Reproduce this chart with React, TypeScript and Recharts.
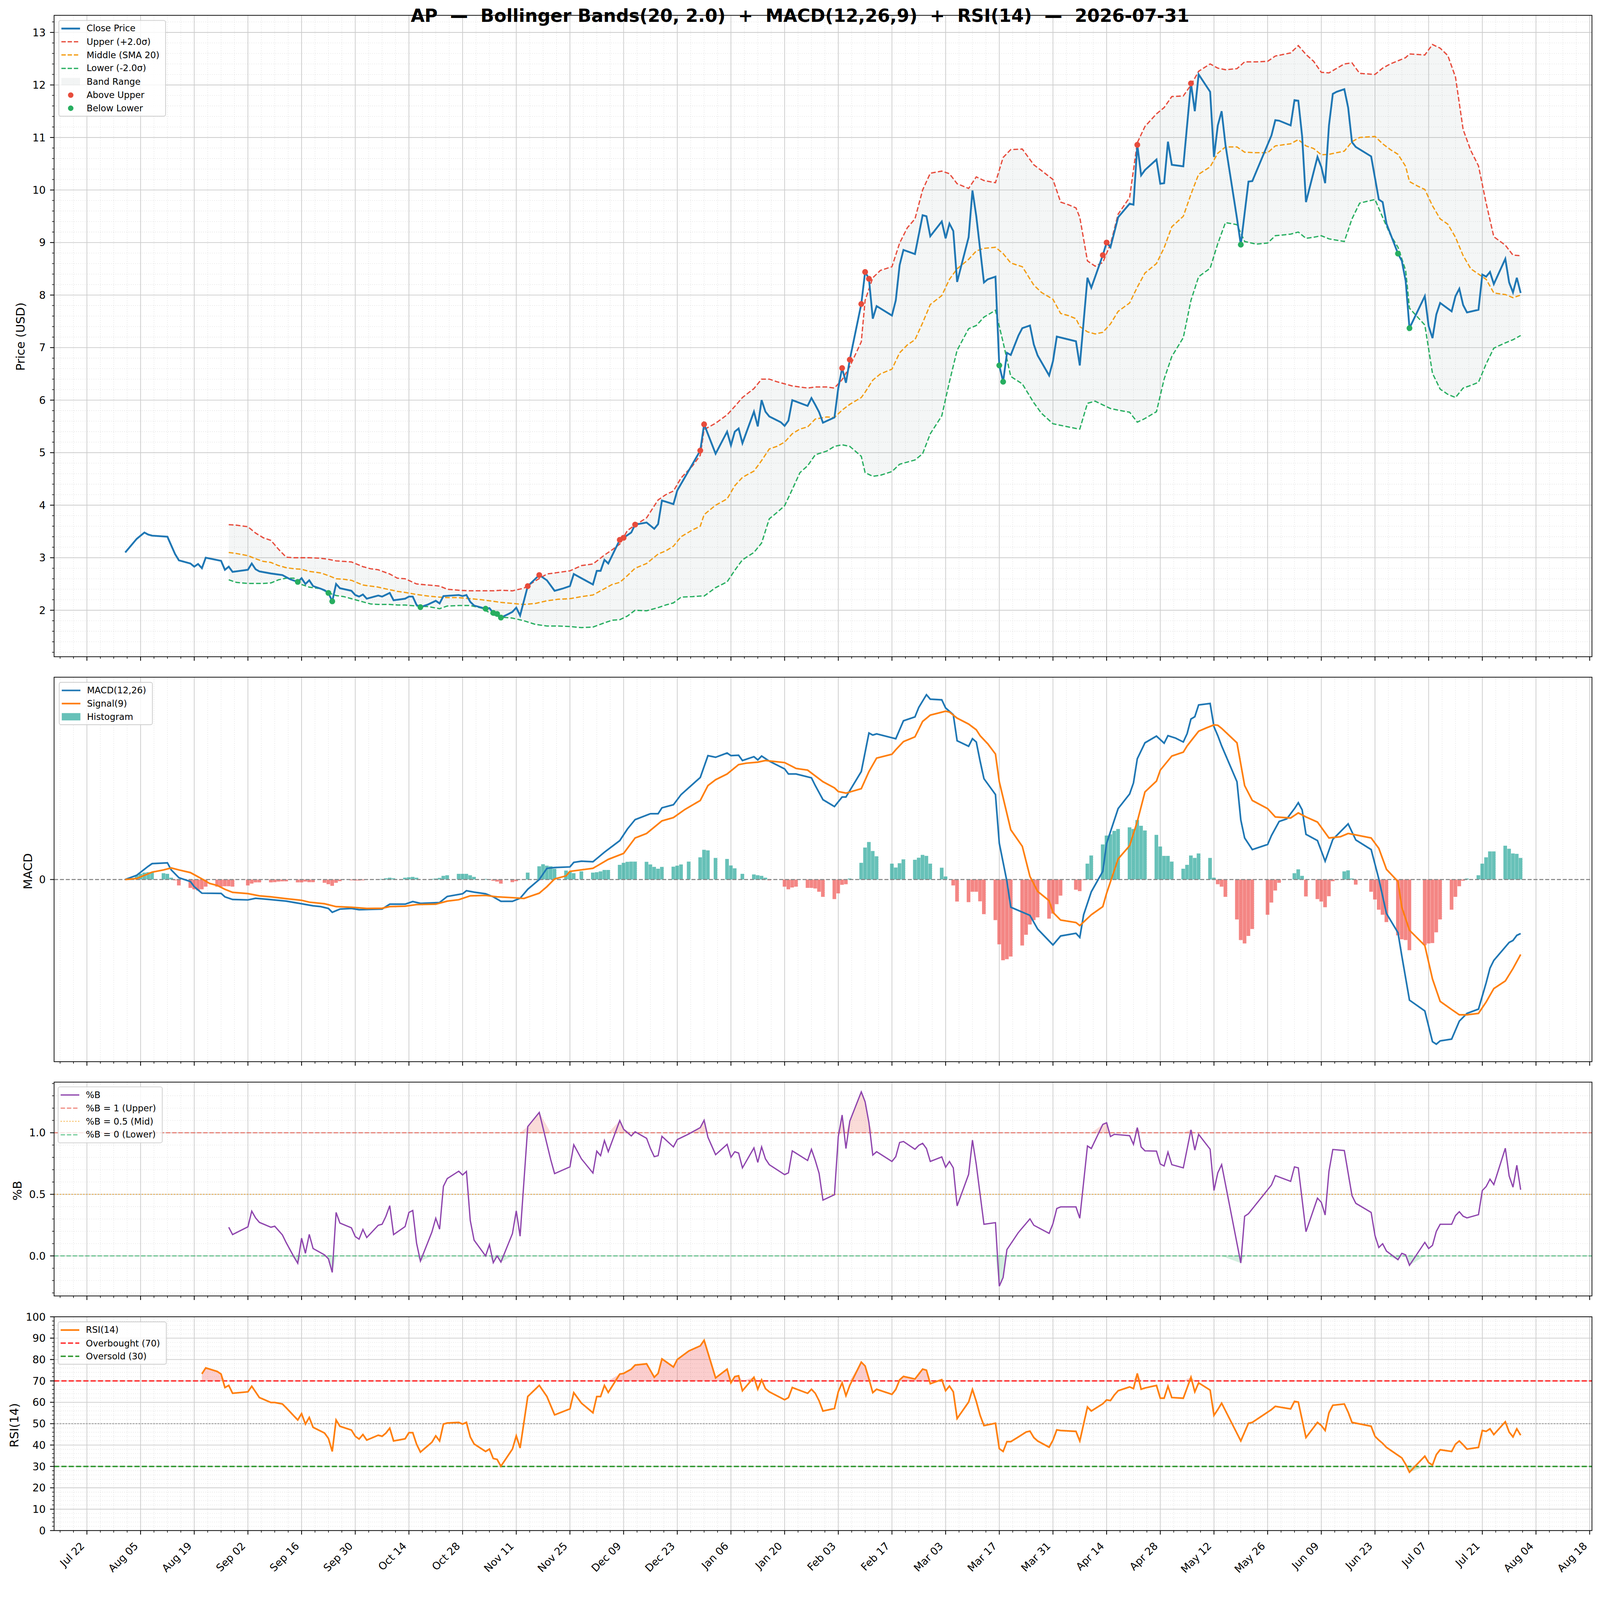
import React from "react";
import {
  ComposedChart,
  Line,
  Area,
  Bar,
  Cell,
  Scatter,
  XAxis,
  YAxis,
  CartesianGrid,
  ReferenceLine,
} from "recharts";

// x values are day numbers counted from 2025-07-22 (the first date tick)
const xMajor = [0, 14, 28, 42, 56, 70, 84, 98, 112, 126, 140, 154, 168, 182, 196, 210, 224, 238, 252, 266, 280, 294, 308, 322, 336, 350, 364, 378, 392];
const xLabels = ["Jul 22", "Aug 05", "Aug 19", "Sep 02", "Sep 16", "Sep 30", "Oct 14", "Oct 28", "Nov 11", "Nov 25", "Dec 09", "Dec 23", "Jan 06", "Jan 20", "Feb 03", "Feb 17", "Mar 03", "Mar 17", "Mar 31", "Apr 14", "Apr 28", "May 12", "May 26", "Jun 09", "Jun 23", "Jul 07", "Jul 21", "Aug 04", "Aug 18"];

const closeDays = [
  10, 13, 15, 16, 17, 21, 23, 24, 27, 28, 29, 30, 31, 35, 36,
  37, 38, 42, 43, 44, 45, 48, 51, 53, 55, 56, 57, 58, 59, 61,
  62, 63, 64, 65, 66, 69, 70, 71, 72, 73, 75, 76, 77, 79, 80,
  83, 84, 85, 86, 87, 89, 91, 92, 93, 97, 98, 99, 100, 101, 104,
  105, 106, 107, 108, 110, 111, 112, 113, 115, 118, 120, 122, 124, 126, 127,
  130, 132, 133, 134, 135, 136, 139, 140, 142, 143, 146, 148, 149, 150, 153,
  154, 160, 161, 164, 167, 168, 169, 170, 171, 174, 175, 176, 177, 178, 181,
  182, 183, 184, 188, 189, 190, 191, 192, 195, 196, 197, 198, 199, 202, 203,
  204, 205, 206, 210, 211, 212, 213, 216, 218, 219, 220, 223, 224, 225, 226,
  227, 230, 231, 232, 233, 234, 235, 237, 238, 239, 240, 241, 243, 244, 246,
  247, 248, 251, 252, 253, 258, 259, 261, 262, 265, 266, 267, 269, 272, 273,
  274, 275, 276, 279, 280, 281, 282, 283, 286, 288, 289, 290, 293, 294, 295,
  296, 297, 300, 301, 303, 304, 309, 310, 311, 314, 315, 316, 317, 318, 321,
  322, 323, 324, 325, 326, 328, 329, 330, 331, 335, 337, 338, 339, 342, 343,
  344, 345, 349, 350, 351, 352, 353, 356, 357, 358, 359, 360, 363, 364, 365,
  366, 367, 370, 371, 372, 373, 374,
];
const closePrices = [
  3.10, 3.36, 3.48, 3.44, 3.42, 3.40, 3.07, 2.95, 2.89, 2.83, 2.88, 2.80, 3.00, 2.94, 2.77,
  2.83, 2.73, 2.77, 2.89, 2.78, 2.74, 2.70, 2.67, 2.59, 2.54, 2.61, 2.50, 2.57, 2.46, 2.41,
  2.38, 2.33, 2.17, 2.50, 2.42, 2.37, 2.29, 2.26, 2.30, 2.22, 2.26, 2.28, 2.26, 2.33, 2.19,
  2.22, 2.26, 2.26, 2.10, 2.06, 2.11, 2.18, 2.13, 2.27, 2.29, 2.27, 2.29, 2.16, 2.09, 2.03,
  2.04, 1.95, 1.93, 1.86, 1.93, 1.97, 2.05, 1.90, 2.46, 2.67, 2.57, 2.37, 2.41, 2.46, 2.69,
  2.57, 2.49, 2.75, 2.75, 2.96, 2.89, 3.34, 3.38, 3.48, 3.63, 3.67, 3.55, 3.64, 4.09, 4.02,
  4.28, 5.04, 5.54, 4.98, 5.40, 5.14, 5.40, 5.46, 5.18, 5.78, 5.50, 6.00, 5.78, 5.69, 5.58,
  5.51, 5.61, 6.00, 5.89, 6.04, 5.91, 5.77, 5.57, 5.67, 6.23, 6.61, 6.33, 6.77, 7.83, 8.44,
  8.31, 7.55, 7.79, 7.61, 7.90, 8.57, 8.86, 8.78, 9.52, 9.50, 9.12, 9.40, 9.08, 9.36, 9.22,
  8.25, 9.10, 9.99, 9.50, 8.87, 8.24, 8.30, 8.35, 6.66, 6.35, 6.90, 6.86, 7.23, 7.37, 7.42,
  7.06, 6.85, 6.47, 6.74, 7.21, 7.12, 6.66, 8.33, 8.14, 8.76, 9.00, 8.91, 9.48, 9.74, 9.72,
  10.86, 10.28, 10.38, 10.58, 10.12, 10.13, 10.92, 10.48, 10.45, 12.03, 11.50, 12.20, 11.87, 10.63, 11.23,
  11.50, 10.86, 9.46, 8.96, 10.16, 10.17, 11.04, 11.33, 11.32, 11.23, 11.71, 11.70, 11.02, 9.77, 10.63,
  10.44, 10.13, 11.23, 11.83, 11.87, 11.92, 11.57, 10.91, 10.82, 10.64, 9.82, 9.77, 9.36, 8.79, 8.65,
  8.27, 7.37, 7.98, 7.41, 7.18, 7.63, 7.85, 7.69, 7.98, 8.12, 7.81, 7.67, 7.72, 8.39, 8.35,
  8.44, 8.21, 8.69, 8.24, 8.05, 8.33, 8.04,
];

const bandDays = [
  37, 39, 42, 44, 46, 48, 50, 52, 54, 56,
  58, 61, 63, 65, 67, 69, 72, 74, 76, 79,
  81, 83, 86, 89, 92, 94, 97, 100, 103, 106,
  108, 111, 114, 117, 120, 123, 126, 129, 132, 135,
  137, 139, 141, 143, 146, 149, 151, 153, 155, 158,
  160, 161, 164, 167, 169, 171, 174, 176, 178, 180,
  182, 184, 186, 188, 190, 193, 195, 197, 199, 202,
  203, 205, 207, 210, 212, 214, 216, 218, 220, 223,
  225, 227, 230, 232, 234, 237, 239, 241, 244, 247,
  249, 252, 254, 256, 258, 259, 261, 263, 265, 267,
  269, 272, 274, 276, 279, 281, 283, 286, 288, 290,
  293, 295, 297, 300, 302, 305, 308, 310, 314, 316,
  318, 320, 322, 324, 328, 330, 332, 336, 338, 340,
  342, 344, 345, 347, 349, 351, 353, 355, 357, 359,
  361, 363, 365, 367, 370, 372, 374,
];
const upperBand = [
  3.63, 3.62, 3.59, 3.47, 3.38, 3.33, 3.16, 3.01, 3.00, 3.00,
  3.00, 2.99, 2.97, 2.94, 2.93, 2.92, 2.83, 2.79, 2.77, 2.69,
  2.61, 2.60, 2.50, 2.48, 2.46, 2.40, 2.38, 2.37, 2.37, 2.37,
  2.38, 2.37, 2.42, 2.56, 2.69, 2.72, 2.75, 2.85, 2.88, 3.05,
  3.15, 3.26, 3.52, 3.62, 3.76, 4.10, 4.20, 4.27, 4.52, 4.75,
  4.95, 5.44, 5.56, 5.72, 5.88, 6.05, 6.22, 6.40, 6.40, 6.35,
  6.31, 6.27, 6.25, 6.23, 6.25, 6.25, 6.23, 6.39, 6.64, 7.11,
  7.90, 8.33, 8.47, 8.54, 8.99, 9.28, 9.45, 10.00, 10.32, 10.36,
  10.31, 10.12, 10.03, 10.25, 10.18, 10.14, 10.62, 10.77, 10.78, 10.48,
  10.37, 10.20, 9.77, 9.72, 9.66, 9.48, 8.65, 8.55, 8.62, 8.97,
  9.54, 9.86, 10.90, 11.21, 11.45, 11.57, 11.78, 11.79, 12.00, 12.26,
  12.40, 12.32, 12.29, 12.31, 12.44, 12.44, 12.45, 12.55, 12.61, 12.75,
  12.58, 12.45, 12.24, 12.23, 12.40, 12.42, 12.22, 12.20, 12.32, 12.40,
  12.46, 12.52, 12.59, 12.58, 12.57, 12.77, 12.70, 12.56, 12.15, 11.15,
  10.75, 10.46, 9.75, 9.11, 8.95, 8.76, 8.75,
];
const middleBand = [
  3.10, 3.08, 3.04, 2.98, 2.93, 2.91, 2.85, 2.81, 2.79, 2.78,
  2.74, 2.71, 2.66, 2.60, 2.59, 2.57, 2.48, 2.46, 2.44, 2.39,
  2.36, 2.34, 2.30, 2.27, 2.25, 2.24, 2.24, 2.22, 2.20, 2.17,
  2.15, 2.13, 2.11, 2.13, 2.18, 2.21, 2.22, 2.26, 2.29, 2.41,
  2.49, 2.53, 2.66, 2.80, 2.89, 3.07, 3.13, 3.22, 3.40, 3.53,
  3.60, 3.82, 4.00, 4.12, 4.37, 4.53, 4.65, 4.85, 5.07, 5.12,
  5.20, 5.36, 5.45, 5.49, 5.64, 5.68, 5.67, 5.81, 5.92, 6.05,
  6.15, 6.38, 6.50, 6.59, 6.90, 7.05, 7.15, 7.47, 7.82, 7.99,
  8.30, 8.50, 8.68, 8.84, 8.89, 8.91, 8.79, 8.61, 8.54, 8.19,
  8.05, 7.92, 7.65, 7.61, 7.55, 7.40, 7.30, 7.26, 7.29, 7.45,
  7.69, 7.85, 8.15, 8.42, 8.60, 8.90, 9.30, 9.50, 9.92, 10.30,
  10.44, 10.70, 10.82, 10.82, 10.72, 10.71, 10.71, 10.84, 10.88, 10.96,
  10.84, 10.79, 10.67, 10.68, 10.74, 10.92, 11.00, 11.02, 10.88, 10.77,
  10.68, 10.45, 10.16, 10.08, 10.01, 9.70, 9.45, 9.35, 9.10, 8.75,
  8.50, 8.40, 8.30, 8.04, 8.01, 7.95, 8.00,
];
const lowerBand = [
  2.58, 2.53, 2.51, 2.51, 2.51, 2.52, 2.58, 2.61, 2.61, 2.49,
  2.44, 2.41, 2.33, 2.28, 2.26, 2.22, 2.16, 2.12, 2.11, 2.11,
  2.10, 2.10, 2.08, 2.07, 2.03, 2.08, 2.09, 2.09, 2.04, 1.91,
  1.87, 1.85, 1.80, 1.73, 1.70, 1.70, 1.69, 1.67, 1.68, 1.76,
  1.81, 1.82, 1.89, 2.00, 1.99, 2.05, 2.10, 2.14, 2.25, 2.26,
  2.27, 2.27, 2.43, 2.54, 2.76, 2.96, 3.10, 3.28, 3.74, 3.86,
  3.99, 4.30, 4.62, 4.75, 4.96, 5.03, 5.12, 5.15, 5.12, 4.93,
  4.62, 4.55, 4.57, 4.64, 4.78, 4.82, 4.86, 4.98, 5.36, 5.70,
  6.35, 6.95, 7.36, 7.42, 7.58, 7.71, 7.10, 6.45, 6.31, 5.95,
  5.75, 5.55, 5.52, 5.49, 5.46, 5.45, 5.94, 5.98, 5.91, 5.84,
  5.81, 5.77, 5.58, 5.65, 5.78, 6.40, 6.83, 7.19, 7.90, 8.35,
  8.51, 8.98, 9.38, 9.34, 9.02, 8.97, 8.99, 9.13, 9.16, 9.20,
  9.08, 9.10, 9.13, 9.07, 9.02, 9.45, 9.75, 9.82, 9.48, 9.15,
  8.91, 8.47, 7.75, 7.59, 7.43, 6.51, 6.21, 6.11, 6.05, 6.23,
  6.28, 6.34, 6.69, 6.99, 7.09, 7.15, 7.23,
];

const aboveDays = [115, 118, 139, 140, 143, 160, 161, 197, 199, 202, 203, 204, 265, 266, 274, 288];
const aboveCloses = [2.46, 2.67, 3.34, 3.38, 3.63, 5.04, 5.54, 6.61, 6.77, 7.83, 8.44, 8.31, 8.76, 9.00, 10.86, 12.03];
const belowDays = [55, 63, 64, 87, 104, 106, 107, 108, 238, 239, 301, 342, 345];
const belowCloses = [2.54, 2.33, 2.17, 2.06, 2.03, 1.95, 1.93, 1.86, 6.66, 6.35, 8.96, 8.79, 7.37];

const macdDays = [
  10, 13, 16, 17, 21, 22, 24, 27, 28, 30,
  35, 36, 38, 42, 44, 47, 52, 56, 59, 61,
  63, 64, 66, 69, 71, 77, 79, 83, 85, 87,
  92, 94, 98, 99, 101, 104, 106, 108, 111, 113,
  115, 118, 120, 122, 126, 127, 129, 132, 135, 139,
  141, 143, 147, 149, 150, 153, 155, 160, 162, 164,
  167, 168, 170, 171, 174, 175, 176, 178, 182, 183,
  185, 189, 190, 192, 195, 197, 198, 202, 204, 205,
  206, 211, 213, 216, 217, 219, 220, 223, 224, 226,
  227, 230, 231, 232, 233, 234, 237, 238, 240, 241,
  246, 248, 252, 254, 258, 259, 260, 262, 265, 266,
  269, 272, 273, 274, 276, 279, 281, 282, 284, 286,
  287, 288, 289, 290, 293, 294, 295, 296, 300, 301,
  302, 304, 308, 309, 311, 313, 315, 316, 317, 318,
  321, 323, 325, 329, 331, 335, 337, 339, 342, 343,
  345, 349, 351, 352, 353, 356, 358, 360, 363, 365,
  366, 367, 371, 372, 373, 374,
];
const macdValues = [
  0.000, 0.021, 0.065, 0.078, 0.082, 0.047, 0.009, -0.010, -0.035, -0.067,
  -0.068, -0.085, -0.098, -0.100, -0.092, -0.097, -0.106, -0.119, -0.129, -0.133,
  -0.142, -0.161, -0.145, -0.142, -0.148, -0.145, -0.121, -0.121, -0.108, -0.117,
  -0.113, -0.083, -0.070, -0.055, -0.062, -0.070, -0.085, -0.107, -0.107, -0.092,
  -0.048, 0.000, 0.055, 0.059, 0.062, 0.084, 0.090, 0.087, 0.134, 0.191,
  0.248, 0.294, 0.323, 0.323, 0.352, 0.367, 0.417, 0.501, 0.608, 0.600,
  0.621, 0.608, 0.610, 0.584, 0.603, 0.587, 0.606, 0.581, 0.543, 0.518,
  0.518, 0.499, 0.461, 0.392, 0.358, 0.405, 0.405, 0.530, 0.719, 0.709,
  0.715, 0.691, 0.779, 0.798, 0.845, 0.907, 0.885, 0.882, 0.842, 0.809,
  0.681, 0.654, 0.691, 0.675, 0.581, 0.495, 0.417, 0.178, -0.010, -0.136,
  -0.176, -0.243, -0.321, -0.277, -0.264, -0.284, -0.173, -0.060, 0.040, 0.178,
  0.348, 0.420, 0.474, 0.593, 0.671, 0.704, 0.669, 0.706, 0.694, 0.675,
  0.716, 0.788, 0.799, 0.857, 0.864, 0.750, 0.706, 0.656, 0.480, 0.292,
  0.204, 0.147, 0.172, 0.216, 0.285, 0.298, 0.348, 0.377, 0.342, 0.222,
  0.191, 0.090, 0.197, 0.273, 0.194, 0.147, 0.003, -0.167, -0.261, -0.375,
  -0.592, -0.645, -0.796, -0.808, -0.792, -0.783, -0.695, -0.657, -0.636, -0.507,
  -0.435, -0.397, -0.309, -0.299, -0.274, -0.265,
];

const signalDays = [
  10, 13, 17, 20, 22, 24, 27, 30, 32, 34,
  36, 38, 42, 45, 48, 52, 56, 58, 62, 65,
  69, 73, 77, 79, 83, 86, 91, 94, 97, 100,
  104, 107, 111, 114, 116, 118, 120, 122, 125, 126,
  130, 132, 136, 140, 143, 146, 150, 153, 156, 160,
  162, 164, 167, 170, 172, 175, 177, 182, 185, 188,
  192, 195, 196, 198, 202, 204, 206, 210, 211, 213,
  216, 218, 220, 224, 225, 227, 230, 232, 233, 235,
  237, 238, 241, 244, 246, 248, 251, 252, 254, 258,
  259, 262, 265, 266, 269, 272, 274, 276, 279, 280,
  283, 286, 287, 290, 292, 294, 295, 296, 300, 302,
  304, 308, 310, 314, 316, 318, 321, 324, 327, 329,
  331, 335, 337, 339, 342, 343, 345, 349, 351, 353,
  356, 358, 360, 363, 365, 367, 370, 372, 374,
];
const signalValues = [
  0.000, 0.005, 0.036, 0.047, 0.057, 0.047, 0.034, 0.003, -0.019, -0.029,
  -0.048, -0.063, -0.069, -0.080, -0.085, -0.094, -0.102, -0.111, -0.119, -0.133,
  -0.136, -0.142, -0.141, -0.133, -0.131, -0.123, -0.121, -0.106, -0.099, -0.080,
  -0.078, -0.085, -0.089, -0.093, -0.080, -0.067, -0.035, 0.003, 0.018, 0.040,
  0.050, 0.055, 0.099, 0.128, 0.204, 0.226, 0.288, 0.304, 0.344, 0.388,
  0.461, 0.490, 0.518, 0.564, 0.571, 0.576, 0.584, 0.574, 0.545, 0.537,
  0.480, 0.450, 0.432, 0.424, 0.446, 0.530, 0.596, 0.615, 0.637, 0.677,
  0.700, 0.776, 0.807, 0.826, 0.822, 0.792, 0.763, 0.735, 0.706, 0.666,
  0.616, 0.480, 0.244, 0.163, 0.015, -0.058, -0.104, -0.161, -0.199, -0.211,
  -0.226, -0.173, -0.133, -0.067, 0.101, 0.166, 0.285, 0.430, 0.483, 0.537,
  0.606, 0.625, 0.656, 0.728, 0.744, 0.759, 0.757, 0.742, 0.671, 0.461,
  0.388, 0.348, 0.307, 0.302, 0.327, 0.307, 0.282, 0.204, 0.210, 0.226,
  0.219, 0.204, 0.153, 0.050, -0.010, -0.136, -0.249, -0.324, -0.488, -0.598,
  -0.638, -0.664, -0.664, -0.657, -0.601, -0.535, -0.498, -0.437, -0.368,
];

const histDays = [
  13, 14, 15, 16, 17, 20, 21, 22, 23, 24,
  27, 28, 29, 30, 31, 34, 35, 36, 37, 38,
  42, 43, 44, 45, 48, 49, 50, 51, 52, 55,
  56, 57, 58, 59, 62, 63, 64, 65, 66, 69,
  70, 71, 72, 73, 76, 77, 78, 79, 80, 83,
  84, 85, 86, 90, 91, 92, 93, 94, 97, 98,
  99, 100, 101, 104, 105, 106, 107, 108, 111, 112,
  113, 115, 118, 119, 120, 121, 122, 125, 126, 127,
  129, 132, 133, 134, 135, 136, 139, 140, 141, 142,
  143, 146, 147, 148, 149, 150, 153, 154, 155, 157,
  160, 161, 162, 164, 167, 168, 169, 171, 174, 175,
  176, 177, 178, 182, 183, 184, 185, 188, 189, 190,
  191, 192, 195, 196, 197, 198, 199, 202, 203, 204,
  205, 206, 210, 211, 212, 213, 216, 217, 218, 219,
  220, 223, 224, 226, 227, 230, 231, 232, 233, 234,
  237, 238, 239, 240, 241, 244, 245, 246, 247, 248,
  251, 252, 253, 254, 258, 259, 260, 261, 262, 265,
  266, 267, 268, 269, 272, 273, 274, 275, 276, 279,
  280, 281, 282, 283, 286, 287, 288, 289, 290, 293,
  294, 295, 296, 297, 300, 301, 302, 303, 304, 308,
  309, 310, 311, 315, 316, 317, 318, 321, 322, 323,
  324, 325, 328, 329, 330, 331, 335, 336, 337, 338,
  339, 342, 343, 344, 345, 349, 350, 351, 352, 353,
  356, 357, 358, 359, 360, 363, 364, 365, 366, 367,
  370, 371, 372, 373, 374,
];
const histValues = [
  0.020, 0.028, 0.034, 0.036, 0.034, 0.031, 0.028, 0.009, -0.004, -0.029,
  -0.041, -0.048, -0.054, -0.048, -0.035, -0.035, -0.035, -0.033, -0.033, -0.035,
  -0.029, -0.020, -0.014, -0.014, -0.014, -0.013, -0.010, -0.009, -0.009, -0.014,
  -0.014, -0.010, -0.013, -0.013, -0.016, -0.023, -0.031, -0.016, -0.008, -0.004,
  -0.005, -0.005, -0.004, -0.001, 0.001, 0.003, 0.006, 0.009, 0.006, 0.009,
  0.011, 0.013, 0.009, 0.003, 0.005, 0.008, 0.018, 0.021, 0.028, 0.028,
  0.028, 0.021, 0.013, 0.003, 0.001, -0.006, -0.010, -0.020, -0.013, -0.008,
  -0.001, 0.034, 0.065, 0.075, 0.068, 0.065, 0.053, 0.044, 0.038, 0.031,
  0.040, 0.034, 0.036, 0.040, 0.047, 0.047, 0.072, 0.082, 0.087, 0.088,
  0.088, 0.087, 0.074, 0.062, 0.053, 0.062, 0.063, 0.068, 0.074, 0.088,
  0.109, 0.146, 0.143, 0.106, 0.101, 0.069, 0.055, 0.028, 0.025, 0.021,
  0.018, 0.009, -0.004, -0.035, -0.048, -0.039, -0.035, -0.041, -0.041, -0.044,
  -0.060, -0.085, -0.096, -0.068, -0.026, -0.023, 0.005, 0.082, 0.157, 0.184,
  0.140, 0.114, 0.078, 0.059, 0.080, 0.099, 0.097, 0.107, 0.121, 0.116,
  0.078, 0.058, 0.015, -0.029, -0.108, -0.111, -0.060, -0.060, -0.107, -0.170,
  -0.199, -0.318, -0.396, -0.391, -0.378, -0.324, -0.271, -0.221, -0.199, -0.186,
  -0.192, -0.167, -0.121, -0.079, -0.050, -0.057, -0.003, 0.078, 0.118, 0.172,
  0.216, 0.222, 0.239, 0.248, 0.256, 0.248, 0.292, 0.264, 0.241, 0.219,
  0.162, 0.116, 0.116, 0.088, 0.053, 0.072, 0.118, 0.106, 0.128, 0.106,
  0.009, -0.023, -0.035, -0.085, -0.196, -0.297, -0.314, -0.277, -0.243, -0.173,
  -0.113, -0.054, -0.016, 0.031, 0.050, 0.018, -0.083, -0.096, -0.108, -0.136,
  -0.082, -0.008, 0.040, 0.045, 0.005, -0.025, -0.060, -0.098, -0.148, -0.173,
  -0.209, -0.274, -0.293, -0.297, -0.347, -0.322, -0.314, -0.312, -0.259, -0.196,
  -0.148, -0.085, -0.033, -0.006, 0.005, 0.021, 0.078, 0.109, 0.138, 0.138,
  0.166, 0.151, 0.128, 0.126, 0.106,
];

const pctBDays = [
  37, 38, 42, 43, 44, 45, 48, 49, 51, 52,
  54, 55, 56, 57, 58, 59, 62, 63, 64, 65,
  66, 69, 70, 71, 72, 73, 76, 77, 78, 79,
  80, 83, 84, 85, 86, 87, 90, 91, 92, 93,
  94, 97, 98, 99, 100, 101, 104, 105, 106, 107,
  108, 111, 112, 113, 115, 118, 121, 122, 126, 127,
  129, 132, 133, 134, 135, 136, 139, 140, 142, 143,
  146, 147, 148, 149, 150, 153, 154, 157, 160, 161,
  162, 164, 167, 168, 169, 170, 171, 174, 175, 176,
  177, 178, 182, 183, 184, 188, 189, 190, 191, 192,
  195, 196, 197, 198, 199, 202, 203, 204, 205, 206,
  210, 211, 212, 213, 216, 217, 218, 219, 220, 223,
  224, 225, 226, 227, 230, 231, 232, 234, 237, 238,
  239, 240, 243, 246, 247, 251, 252, 253, 254, 258,
  259, 261, 262, 265, 266, 267, 268, 272, 273, 274,
  275, 276, 279, 280, 281, 282, 283, 286, 288, 289,
  290, 293, 294, 295, 296, 301, 302, 303, 309, 310,
  314, 315, 316, 318, 321, 322, 323, 324, 325, 328,
  330, 331, 335, 336, 337, 338, 339, 342, 343, 344,
  345, 349, 350, 351, 352, 353, 356, 357, 358, 359,
  360, 363, 364, 365, 366, 367, 370, 371, 372, 373,
  374,
];
const pctBValues = [
  0.233, 0.173, 0.236, 0.364, 0.309, 0.272, 0.233, 0.241, 0.170, 0.107,
  -0.008, -0.060, 0.144, 0.021, 0.175, 0.060, 0.008, -0.024, -0.134, 0.353,
  0.267, 0.228, 0.157, 0.136, 0.215, 0.149, 0.249, 0.257, 0.322, 0.408,
  0.173, 0.238, 0.353, 0.369, 0.102, -0.042, 0.194, 0.306, 0.217, 0.565,
  0.628, 0.688, 0.657, 0.686, 0.288, 0.128, 0.000, 0.092, -0.055, 0.000,
  -0.050, 0.181, 0.366, 0.160, 1.050, 1.165, 0.780, 0.668, 0.723, 0.903,
  0.788, 0.673, 0.851, 0.814, 0.937, 0.846, 1.099, 1.029, 0.974, 1.008,
  0.955, 0.872, 0.806, 0.814, 0.971, 0.885, 0.945, 0.990, 1.042, 1.102,
  0.963, 0.822, 0.906, 0.801, 0.846, 0.835, 0.715, 0.877, 0.759, 0.885,
  0.788, 0.741, 0.660, 0.675, 0.853, 0.775, 0.866, 0.775, 0.670, 0.453,
  0.497, 0.969, 1.144, 0.872, 1.094, 1.332, 1.251, 1.081, 0.819, 0.846,
  0.767, 0.806, 0.921, 0.929, 0.866, 0.898, 0.914, 0.872, 0.767, 0.804,
  0.720, 0.767, 0.715, 0.406, 0.662, 0.940, 0.741, 0.257, 0.270, -0.246,
  -0.175, 0.052, 0.191, 0.301, 0.249, 0.183, 0.262, 0.385, 0.398, 0.398,
  0.306, 0.893, 0.872, 1.068, 1.081, 0.969, 0.987, 0.976, 0.906, 1.042,
  0.885, 0.853, 0.851, 0.746, 0.730, 0.843, 0.741, 0.715, 1.024, 0.859,
  0.987, 0.866, 0.531, 0.675, 0.741, -0.058, 0.322, 0.343, 0.576, 0.652,
  0.605, 0.723, 0.715, 0.196, 0.469, 0.435, 0.332, 0.688, 0.864, 0.856,
  0.490, 0.427, 0.353, 0.165, 0.068, 0.099, 0.039, -0.031, 0.021, 0.008,
  -0.076, 0.110, 0.060, 0.086, 0.199, 0.257, 0.257, 0.327, 0.359, 0.322,
  0.309, 0.335, 0.531, 0.563, 0.623, 0.579, 0.874, 0.649, 0.558, 0.736,
  0.537,
];

const rsiDays = [
  30, 31, 34, 35, 36, 37, 38, 42, 43, 45,
  48, 49, 51, 52, 55, 56, 57, 58, 59, 62,
  63, 64, 65, 66, 69, 70, 71, 72, 73, 76,
  77, 78, 79, 80, 83, 84, 85, 86, 87, 90,
  91, 92, 93, 94, 97, 98, 99, 100, 101, 104,
  105, 106, 107, 108, 111, 112, 113, 115, 118, 120,
  122, 126, 127, 129, 132, 133, 134, 135, 136, 139,
  140, 142, 143, 146, 148, 149, 150, 153, 154, 157,
  160, 161, 164, 167, 168, 169, 170, 171, 174, 175,
  176, 177, 178, 182, 183, 184, 188, 189, 190, 191,
  192, 195, 196, 197, 198, 199, 202, 203, 204, 205,
  206, 210, 211, 212, 213, 216, 217, 218, 219, 220,
  223, 224, 225, 226, 227, 230, 231, 232, 233, 234,
  237, 238, 239, 240, 241, 243, 245, 246, 247, 248,
  251, 252, 253, 254, 258, 259, 261, 262, 265, 266,
  267, 268, 269, 272, 273, 274, 275, 276, 279, 280,
  281, 282, 283, 286, 288, 289, 290, 293, 294, 295,
  296, 301, 303, 304, 309, 310, 314, 315, 316, 318,
  321, 322, 323, 324, 325, 328, 329, 330, 335, 336,
  337, 338, 339, 342, 343, 344, 345, 349, 350, 351,
  352, 353, 356, 357, 358, 359, 360, 363, 364, 365,
  366, 367, 370, 371, 372, 373, 374,
];
const rsiValues = [
  73.3, 76.1, 74.4, 73.2, 66.9, 67.9, 64.2, 64.9, 67.5, 62.2,
  59.9, 59.9, 59.2, 57.4, 51.7, 54.7, 49.8, 52.9, 48.3, 45.6,
  43.1, 37.0, 51.7, 48.8, 47.0, 44.1, 42.8, 44.9, 42.3, 44.6,
  44.1, 45.6, 47.9, 41.9, 42.9, 45.8, 45.8, 40.4, 36.7, 41.3,
  44.3, 41.9, 49.8, 50.3, 50.6, 49.8, 50.6, 43.8, 40.5, 37.0,
  38.1, 33.7, 33.3, 30.1, 38.1, 44.3, 38.6, 62.7, 67.9, 62.7,
  54.1, 56.9, 64.5, 59.6, 55.1, 62.7, 62.7, 67.9, 64.6, 73.2,
  73.5, 75.5, 77.4, 78.0, 71.7, 73.5, 80.3, 76.5, 80.0, 84.0,
  86.4, 89.0, 71.4, 75.5, 69.1, 72.0, 72.4, 65.4, 71.7, 66.1,
  70.5, 66.4, 64.9, 61.2, 62.2, 66.9, 64.2, 66.1, 64.2, 60.7,
  55.9, 57.1, 64.9, 69.1, 63.1, 67.9, 78.8, 77.0, 70.9, 64.5,
  66.1, 63.7, 66.0, 70.5, 72.1, 70.9, 73.2, 75.5, 75.0, 68.7,
  70.6, 65.4, 67.6, 64.9, 52.4, 60.1, 66.0, 60.4, 53.9, 49.1,
  50.2, 38.3, 37.0, 41.6, 41.6, 43.8, 46.1, 46.5, 43.5, 41.9,
  39.0, 42.3, 47.1, 46.8, 46.4, 41.9, 57.8, 55.9, 59.3, 61.1,
  60.8, 63.4, 65.4, 67.2, 66.4, 73.5, 66.1, 66.7, 67.9, 61.9,
  61.9, 67.5, 62.2, 61.9, 71.7, 64.9, 69.1, 65.7, 53.9, 56.6,
  59.6, 41.9, 50.2, 50.6, 56.6, 58.1, 56.9, 60.4, 60.1, 43.5,
  50.6, 49.1, 46.8, 55.1, 58.6, 59.2, 55.4, 50.6, 48.8, 44.1,
  42.3, 40.8, 38.9, 35.2, 34.0, 31.0, 27.3, 34.8, 31.8, 30.6,
  35.5, 37.8, 37.0, 40.4, 41.9, 40.1, 38.1, 38.9, 46.8, 46.4,
  47.6, 44.9, 50.9, 46.1, 43.8, 47.6, 44.6,
];

const priceMajor = [2, 3, 4, 5, 6, 7, 8, 9, 10, 11, 12, 13];
const pctBMajor = [0, 0.5, 1];
const rsiMajor = [0, 10, 20, 30, 40, 50, 60, 70, 80, 90, 100];

// ---------- layout ----------
const W = 4378;
const H = 4322;
const FONT = '"DejaVu Sans", "Liberation Sans", sans-serif';
const PLOT_LEFT = 148;
const PLOT_RIGHT = 4356;
const TOP_PAD = 30;
const X_DOMAIN: [number, number] = [-8.56, 392.6];
const PANELS = {
  price: { top: 42, height: 1755 },
  macd: { top: 1853, height: 1052 },
  pctB: { top: 2961, height: 585 },
  rsi: { top: 3603, height: 585 },
};
const TICK_FONT = 28.5;

const steps = (from: number, to: number, step: number) => {
  const out: number[] = [];
  for (let i = 0; from + i * step <= to + 1e-9; i++) out.push(Math.round((from + i * step) * 1000) / 1000);
  return out;
};
const near = (list: number[], v: number) => list.some((m) => Math.abs(m - v) < 1e-6);

const xTicks = steps(-7, 392, 3.5);
const xMinor = xTicks.filter((v) => !near(xMajor, v));
const priceTicks = steps(1.2, 13.2, 0.2);
const priceMinor = priceTicks.filter((v) => !near(priceMajor, v));
const pctBTicks = steps(-0.3, 1.4, 0.1);
const pctBMinor = pctBTicks.filter((v) => !near(pctBMajor, v));
const rsiTicks = steps(0, 100, 2);
const rsiMinor = rsiTicks.filter((v) => !near(rsiMajor, v));

const pairs = (days: number[], values: number[]) => days.map((day, i) => ({ day, v: values[i] }));
const closeRows = pairs(closeDays, closePrices);
const bandRows = bandDays.map((day, i) => ({ day, upper: upperBand[i], middle: middleBand[i], lower: lowerBand[i] }));
const aboveRows = pairs(aboveDays, aboveCloses);
const belowRows = pairs(belowDays, belowCloses);
const macdRows = pairs(macdDays, macdValues);
const signalRows = pairs(signalDays, signalValues);
const histRows = pairs(histDays, histValues);
const pctBRows = pairs(pctBDays, pctBValues);
const rsiRows = pairs(rsiDays, rsiValues);

const makeXTick = (showLabels: boolean) => (props: any) => {
  const { x, y, payload } = props;
  const major = near(xMajor, payload.value);
  const len = major ? 11 : 5.5;
  const label = xLabels[Math.round(payload.value / 14)];
  return (
    <g>
      <line x1={x} y1={y} x2={x} y2={y + len} stroke="#000" strokeWidth={major ? 2.2 : 1.6} />
      {showLabels && major && (
        <text
          transform={`translate(${x - 5},${y + 44}) rotate(-45)`}
          textAnchor="end"
          fontSize={TICK_FONT}
          fontFamily={FONT}
          fill="#000"
        >
          {label}
        </text>
      )}
    </g>
  );
};

const makeYTick = (majors: number[], fmt: (v: number) => string) => (props: any) => {
  const { x, y, payload } = props;
  const major = near(majors, payload.value);
  const len = major ? 11 : 5.5;
  return (
    <g>
      <line x1={x - len} y1={y} x2={x} y2={y} stroke="#000" strokeWidth={major ? 2.2 : 1.6} />
      {major && (
        <text x={x - len - 12} y={y} dy="0.36em" textAnchor="end" fontSize={TICK_FONT} fontFamily={FONT} fill="#000">
          {fmt(payload.value)}
        </text>
      )}
    </g>
  );
};

const xAxisFor = (showLabels: boolean, height: number) => (
  <XAxis
    dataKey="day"
    type="number"
    domain={X_DOMAIN}
    allowDataOverflow
    ticks={xTicks}
    interval={0}
    axisLine={false}
    tickLine={false}
    tickSize={0}
    tickMargin={0}
    height={height}
    tick={makeXTick(showLabels)}
  />
);

const Frame = ({ top, height }: { top: number; height: number }) => (
  <div
    style={{
      position: "absolute",
      left: PLOT_LEFT - 1.25,
      top: top - 1.25,
      width: PLOT_RIGHT - PLOT_LEFT + 2.5,
      height: height + 2.5,
      border: "2.5px solid #000",
      boxSizing: "border-box",
      pointerEvents: "none",
    }}
  />
);

type LegendItem = {
  label: string;
  kind: "line" | "patch" | "dot";
  color: string;
  width?: number;
  dash?: string;
  opacity?: number;
};

const LegendBox = ({ left, top, items }: { left: number; top: number; items: LegendItem[] }) => (
  <div
    style={{
      position: "absolute",
      left,
      top,
      padding: "2.6px 16px 2.6px 0",
      background: "rgba(255,255,255,0.8)",
      border: "2px solid #cccccc",
      borderRadius: 6,
      fontFamily: FONT,
      fontSize: 24.4,
      color: "#000",
    }}
  >
    {items.map((it) => (
      <div key={it.label} style={{ display: "flex", alignItems: "center", height: 36.4, whiteSpace: "nowrap" }}>
        <svg width={75} height={36.4} style={{ flex: "none" }}>
          {it.kind === "line" && (
            <line
              x1={6}
              x2={57}
              y1={18.2}
              y2={18.2}
              stroke={it.color}
              strokeWidth={it.width ?? 4}
              strokeDasharray={it.dash}
              strokeOpacity={it.opacity ?? 1}
            />
          )}
          {it.kind === "patch" && (
            <rect x={6} y={8.2} width={51} height={20} fill={it.color} fillOpacity={it.opacity ?? 1} />
          )}
          {it.kind === "dot" && <circle cx={31.5} cy={18.2} r={7.5} fill={it.color} />}
        </svg>
        <span>{it.label}</span>
      </div>
    ))}
  </div>
);

const dot = (color: string) => (p: any) => <circle cx={p.cx} cy={p.cy} r={8} fill={color} />;

export default function App() {
  // the browser viewport can be smaller than the figure, so fit the whole figure into it
  const vw = typeof window !== "undefined" ? window.innerWidth : W;
  const vh = typeof window !== "undefined" ? window.innerHeight : H;
  const scale = Math.min(1, vw / W, vh / H);

  const yAxisCommon = {
    type: "number" as const,
    allowDataOverflow: true,
    interval: 0 as const,
    width: PLOT_LEFT,
    axisLine: false,
    tickLine: false,
    tickSize: 0,
    tickMargin: 0,
  };
  const minorGrid = { stroke: "#dddddd", strokeWidth: 1.4, strokeDasharray: "2 4" };
  const majorGrid = { stroke: "#cccccc", strokeWidth: 2 };
  const margin = { top: TOP_PAD, right: W - PLOT_RIGHT, bottom: 0, left: 0 };

  return (
    <div style={{ width: W * scale, height: H * scale, overflow: "hidden", background: "#fff" }}>
      <style>{"body{margin:0;background:#fff}"}</style>
      <div
        style={{
          position: "relative",
          width: W,
          height: H,
          background: "#fff",
          overflow: "hidden",
          fontFamily: FONT,
          transform: `scale(${scale})`,
          transformOrigin: "0 0",
        }}
      >
        {/* Price + Bollinger Bands */}
        <div style={{ position: "absolute", left: 0, top: PANELS.price.top - TOP_PAD }}>
          <ComposedChart width={W} height={PANELS.price.height + TOP_PAD + 20} data={bandRows} margin={margin}>
            <CartesianGrid {...minorGrid} verticalValues={xMinor} horizontalValues={priceMinor} />
            <CartesianGrid {...majorGrid} verticalValues={xMajor} horizontalValues={priceMajor} />
            {xAxisFor(false, 20)}
            <YAxis {...yAxisCommon} domain={[1.115, 13.325]} ticks={priceTicks} tick={makeYTick(priceMajor, (v) => String(v))} />
            <Area dataKey={(r: any) => [r.lower, r.upper]} fill="#95a5a6" fillOpacity={0.1} stroke="none" isAnimationActive={false} />
            <Line dataKey="upper" stroke="#e74c3c" strokeWidth={3.5} strokeDasharray="13 6" dot={false} activeDot={false} isAnimationActive={false} />
            <Line dataKey="middle" stroke="#f39c12" strokeWidth={3.5} strokeDasharray="13 6" dot={false} activeDot={false} isAnimationActive={false} />
            <Line dataKey="lower" stroke="#27ae60" strokeWidth={3.5} strokeDasharray="13 6" dot={false} activeDot={false} isAnimationActive={false} />
            <Line data={closeRows} dataKey="v" stroke="#1f77b4" strokeWidth={5} dot={false} activeDot={false} isAnimationActive={false} />
            <Scatter data={aboveRows} dataKey="v" fill="#e74c3c" shape={dot("#e74c3c")} isAnimationActive={false} />
            <Scatter data={belowRows} dataKey="v" fill="#27ae60" shape={dot("#27ae60")} isAnimationActive={false} />
          </ComposedChart>
        </div>

        {/* MACD */}
        <div style={{ position: "absolute", left: 0, top: PANELS.macd.top - TOP_PAD }}>
          <ComposedChart width={W} height={PANELS.macd.height + TOP_PAD + 20} data={histRows} margin={margin}>
            <CartesianGrid {...minorGrid} horizontal={false} verticalValues={xMinor} />
            <CartesianGrid {...majorGrid} horizontal={false} verticalValues={xMajor} />
            {xAxisFor(false, 20)}
            <YAxis {...yAxisCommon} domain={[-0.894, 0.993]} ticks={[0]} tick={makeYTick([0], () => "0")} />
            <Bar dataKey="v" barSize={10} isAnimationActive={false}>
              {histRows.map((r, i) => (
                <Cell key={i} fill={r.v >= 0 ? "#26a69a" : "#ef5350"} fillOpacity={0.7} />
              ))}
            </Bar>
            <ReferenceLine y={0} stroke="#888888" strokeWidth={3} strokeDasharray="11 5" />
            <Line data={macdRows} dataKey="v" stroke="#1f77b4" strokeWidth={4.5} dot={false} activeDot={false} isAnimationActive={false} />
            <Line data={signalRows} dataKey="v" stroke="#ff7f0e" strokeWidth={4.5} dot={false} activeDot={false} isAnimationActive={false} />
          </ComposedChart>
        </div>

        {/* %B */}
        <div style={{ position: "absolute", left: 0, top: PANELS.pctB.top - TOP_PAD }}>
          <ComposedChart width={W} height={PANELS.pctB.height + TOP_PAD + 20} data={pctBRows} margin={margin}>
            <CartesianGrid {...minorGrid} verticalValues={xMinor} horizontalValues={pctBMinor} />
            <CartesianGrid {...majorGrid} verticalValues={xMajor} horizontalValues={pctBMajor} />
            {xAxisFor(false, 20)}
            <YAxis {...yAxisCommon} domain={[-0.325, 1.411]} ticks={pctBTicks} tick={makeYTick(pctBMajor, (v) => v.toFixed(1))} />
            <Area dataKey={(r: any) => [1, Math.max(r.v, 1)]} fill="#e74c3c" fillOpacity={0.2} stroke="none" isAnimationActive={false} />
            <Area dataKey={(r: any) => [Math.min(r.v, 0), 0]} fill="#27ae60" fillOpacity={0.2} stroke="none" isAnimationActive={false} />
            <ReferenceLine y={1} stroke="#e74c3c" strokeOpacity={0.7} strokeWidth={3} strokeDasharray="12 5" />
            <ReferenceLine y={0.5} stroke="#f39c12" strokeOpacity={0.7} strokeWidth={3} strokeDasharray="3 5" />
            <ReferenceLine y={0} stroke="#27ae60" strokeOpacity={0.7} strokeWidth={3} strokeDasharray="12 5" />
            <Line dataKey="v" stroke="#8e44ad" strokeWidth={3.5} dot={false} activeDot={false} isAnimationActive={false} />
          </ComposedChart>
        </div>

        {/* RSI */}
        <div style={{ position: "absolute", left: 0, top: PANELS.rsi.top - TOP_PAD }}>
          <ComposedChart width={W} height={H - PANELS.rsi.top + TOP_PAD} data={rsiRows} margin={margin}>
            <CartesianGrid {...minorGrid} verticalValues={xMinor} horizontalValues={rsiMinor} />
            <CartesianGrid {...majorGrid} verticalValues={xMajor} horizontalValues={rsiMajor} />
            {xAxisFor(true, H - PANELS.rsi.top - PANELS.rsi.height)}
            <YAxis {...yAxisCommon} domain={[0, 100]} ticks={rsiTicks} tick={makeYTick(rsiMajor, (v) => String(v))} />
            <Area dataKey={(r: any) => [70, Math.max(r.v, 70)]} fill="#f03c3c" fillOpacity={0.25} stroke="none" isAnimationActive={false} />
            <Area dataKey={(r: any) => [Math.min(r.v, 30), 30]} fill="#2ca02c" fillOpacity={0.25} stroke="none" isAnimationActive={false} />
            <ReferenceLine y={50} stroke="#999999" strokeWidth={3} strokeDasharray="3 5" />
            <ReferenceLine y={70} stroke="#ff3333" strokeWidth={4} strokeDasharray="14 6" />
            <ReferenceLine y={30} stroke="#339933" strokeWidth={4} strokeDasharray="14 6" />
            <Line dataKey="v" stroke="#ff7f0e" strokeWidth={4.5} dot={false} activeDot={false} isAnimationActive={false} />
          </ComposedChart>
        </div>

        <Frame {...PANELS.price} />
        <Frame {...PANELS.macd} />
        <Frame {...PANELS.pctB} />
        <Frame {...PANELS.rsi} />

        <LegendBox
          left={160}
          top={55}
          items={[
            { label: "Close Price", kind: "line", color: "#1f77b4", width: 5 },
            { label: "Upper (+2.0σ)", kind: "line", color: "#e74c3c", width: 3.5, dash: "12 5" },
            { label: "Middle (SMA 20)", kind: "line", color: "#f39c12", width: 3.5, dash: "12 5" },
            { label: "Lower (-2.0σ)", kind: "line", color: "#27ae60", width: 3.5, dash: "12 5" },
            { label: "Band Range", kind: "patch", color: "#95a5a6", opacity: 0.12 },
            { label: "Above Upper", kind: "dot", color: "#e74c3c" },
            { label: "Below Lower", kind: "dot", color: "#27ae60" },
          ]}
        />
        <LegendBox
          left={161}
          top={1866}
          items={[
            { label: "MACD(12,26)", kind: "line", color: "#1f77b4", width: 4.5 },
            { label: "Signal(9)", kind: "line", color: "#ff7f0e", width: 4.5 },
            { label: "Histogram", kind: "patch", color: "#26a69a", opacity: 0.7 },
          ]}
        />
        <LegendBox
          left={158}
          top={2973}
          items={[
            { label: "%B", kind: "line", color: "#8e44ad", width: 3.5 },
            { label: "%B = 1 (Upper)", kind: "line", color: "#e74c3c", width: 3, dash: "12 5", opacity: 0.7 },
            { label: "%B = 0.5 (Mid)", kind: "line", color: "#f39c12", width: 3, dash: "3 5", opacity: 0.7 },
            { label: "%B = 0 (Lower)", kind: "line", color: "#27ae60", width: 3, dash: "12 5", opacity: 0.7 },
          ]}
        />
        <LegendBox
          left={158}
          top={3616}
          items={[
            { label: "RSI(14)", kind: "line", color: "#ff7f0e", width: 4.5 },
            { label: "Overbought (70)", kind: "line", color: "#ff3333", width: 4, dash: "14 6" },
            { label: "Oversold (30)", kind: "line", color: "#339933", width: 4, dash: "14 6" },
          ]}
        />

        <svg width={W} height={H} style={{ position: "absolute", left: 0, top: 0, pointerEvents: "none" }}>
          <text x={W / 2} y={60} textAnchor="middle" fontSize={49} fontWeight="bold" fontFamily={FONT} fill="#000" xmlSpace="preserve" style={{ whiteSpace: "pre" }}>
            {"AP  \u2014  Bollinger Bands(20, 2.0)  +  MACD(12,26,9)  +  RSI(14)  \u2014  2026-07-31"}
          </text>
          <text transform="translate(55,921) rotate(-90)" textAnchor="middle" dy="0.36em" fontSize={33} fontFamily={FONT} fill="#000">
            Price (USD)
          </text>
          <text transform="translate(76,2384) rotate(-90)" textAnchor="middle" dy="0.36em" fontSize={33} fontFamily={FONT} fill="#000">
            MACD
          </text>
          <text transform="translate(47,3258) rotate(-90)" textAnchor="middle" dy="0.36em" fontSize={33} fontFamily={FONT} fill="#000">
            %B
          </text>
          <text transform="translate(38,3900) rotate(-90)" textAnchor="middle" dy="0.36em" fontSize={33} fontFamily={FONT} fill="#000">
            RSI(14)
          </text>
        </svg>
      </div>
    </div>
  );
}
